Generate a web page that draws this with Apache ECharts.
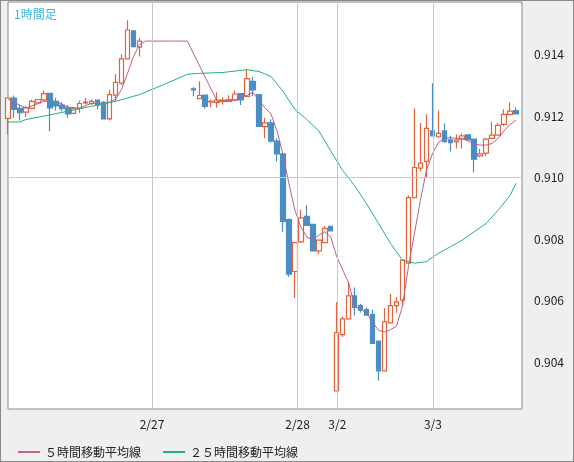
<!DOCTYPE html>
<html><head><meta charset="utf-8">
<script src="https://cdn.jsdelivr.net/npm/echarts@6/dist/echarts.min.js"></script>
<style>html,body{margin:0;padding:0;background:#efefef}#c{width:574px;height:462px;box-sizing:border-box;border:1px solid #8a8a8a}</style>
</head><body><div id="c"></div>
<script>
// [open, close, low, high]; '-' = no data (gap)
const candles = [
[0.91193,0.91259,0.91141,0.91261],[0.91259,0.91222,0.91195,0.91267],[0.91225,0.91211,0.91186,0.91236],[0.91213,0.91227,0.91197,0.91232],
[0.91225,0.91248,0.91222,0.91254],[0.91243,0.91254,0.91241,0.91256],[0.91253,0.91273,0.91248,0.91283],[0.91274,0.91227,0.91152,0.91274],
[0.91248,0.91233,0.91218,0.91259],[0.91236,0.91224,0.91216,0.91246],[0.91227,0.91207,0.91195,0.91236],[0.91209,0.91224,0.91206,0.91229],
[0.91225,0.91241,0.91211,0.91251],[0.91243,0.91246,0.91238,0.91259],[0.91241,0.91248,0.91236,0.91254],[0.91252,0.91236,0.91222,0.91252],
[0.91245,0.91191,0.91191,0.91248],[0.91191,0.91270,0.91186,0.91286],[0.91268,0.91310,0.91248,0.91336],[0.91307,0.91386,0.91302,0.91401],
[0.91386,0.91480,0.91386,0.91512],[0.91477,0.91426,0.91423,0.91480],[0.91424,0.91444,0.91394,0.91455],
'-','-','-','-','-','-','-','-',
[0.91289,0.91285,0.91265,0.91294],[0.91257,0.91267,0.91257,0.91313],[0.91268,0.91232,0.91225,0.91268],[0.91246,0.91248,0.91229,0.91254],
[0.91245,0.91252,0.91227,0.91278],[0.91248,0.91252,0.91238,0.91261],[0.91248,0.91254,0.91248,0.91268],[0.91252,0.91272,0.91248,0.91283],
[0.91273,0.91253,0.91236,0.91275],[0.91264,0.91322,0.91264,0.91353],[0.91313,0.91285,0.91265,0.91328],[0.91270,0.91167,0.91167,0.91272],
[0.91166,0.91178,0.91128,0.91195],[0.91178,0.91119,0.91114,0.91189],[0.91119,0.91077,0.91052,0.91128],[0.91077,0.90858,0.90824,0.91077],
[0.90864,0.90686,0.90678,0.90867],[0.90695,0.90789,0.90609,0.90789],[0.90791,0.90869,0.90788,0.90896],[0.90874,0.90845,0.90843,0.90910],
[0.90848,0.90762,0.90762,0.90848],[0.90762,0.90797,0.90752,0.90797],[0.90789,0.90835,0.90789,0.90843],[0.90842,0.90827,0.90827,0.90842],
[0.90307,0.90496,0.90307,0.90595],[0.90490,0.90541,0.90482,0.90549],[0.90541,0.90616,0.90541,0.90659],[0.90616,0.90578,0.90552,0.90643],
[0.90584,0.90569,0.90562,0.90590],[0.90571,0.90553,0.90553,0.90578],[0.90555,0.90461,0.90461,0.90571],[0.90469,0.90372,0.90340,0.90469],
[0.90372,0.90531,0.90372,0.90576],[0.90528,0.90584,0.90528,0.90623],[0.90584,0.90596,0.90561,0.90612],[0.90603,0.90732,0.90582,0.90732],
[0.90722,0.90935,0.90722,0.90942],[0.90935,0.91033,0.90935,0.91225],[0.91031,0.91047,0.91020,0.91178],[0.91053,0.91160,0.91001,0.91206],
[0.91152,0.91136,0.91136,0.91307],[0.91133,0.91144,0.91130,0.91218],[0.91152,0.91117,0.91114,0.91177],[0.91123,0.91114,0.91085,0.91136],
[0.91117,0.91123,0.91095,0.91141],[0.91125,0.91136,0.91095,0.91144],[0.91139,0.91123,0.91123,0.91139],[0.91125,0.91060,0.91017,0.91125],
[0.91071,0.91077,0.91066,0.91093],[0.91080,0.91125,0.91071,0.91130],[0.91128,0.91138,0.91125,0.91181],[0.91138,0.91170,0.91136,0.91178],
[0.91173,0.91206,0.91168,0.91222],[0.91206,0.91216,0.91202,0.91245],[0.91218,0.91207,0.91206,0.91229],
'-'
];
// moving averages, [slot, value]
const ma5Pts = [[0,0.91255],[3,0.91226],[6,0.91248],[8,0.91248],[10,0.91229],[12,0.91226],[14,0.91242],[16,0.91242],[17,0.91245],
[18,0.91255],[19,0.91287],[20,0.91339],[21,0.91394],[22,0.91432],[23,0.91444],[24,0.91444],[25,0.91444],[26,0.91444],[27,0.91444],
[28,0.91444],[29,0.91444],[30,0.91444],[35,0.91248],[36,0.91248],[38,0.91253],[39,0.91261],[40,0.91268],[41,0.91277],[42,0.91251],
[43,0.91227],[44,0.91207],[45,0.91152],[46,0.91077],[47,0.90981],[48,0.90894],[49,0.90840],[50,0.90807],[51,0.90797],[52,0.90813],
[53,0.90824],[54,0.90807],[55,0.90743],[56,0.90700],[57,0.90658],[58,0.90582],[59,0.90571],[60,0.90561],[61,0.90529],[62,0.90504],
[63,0.90498],[64,0.90506],[65,0.90517],[66,0.90582],[67,0.90711],[68,0.90818],[69,0.90926],[70,0.91023],[71,0.91077],[72,0.91114],
[73,0.91128],[74,0.91130],[75,0.91128],[76,0.91128],[77,0.91119],[78,0.91109],[79,0.91106],[80,0.91106],[81,0.91111],[82,0.91128],
[83,0.91152],[84,0.91173],[85,0.91187]];
const ma25Pts = [[0,0.91181],[2,0.91181],[3,0.91189],[6,0.91200],[10,0.91216],[14,0.91232],[18,0.91248],[20,0.91259],[22,0.91270],
[26,0.91302],[30,0.91336],[32,0.91339],[36,0.91342],[40,0.91351],[42,0.91345],[44,0.91329],[46,0.91281],[48,0.91222],[50,0.91189],
[52,0.91152],[54,0.91087],[56,0.91023],[58,0.90974],[60,0.90915],[62,0.90851],[64,0.90786],[66,0.90732],[68,0.90722],[70,0.90727],
[72,0.90754],[74,0.90775],[76,0.90797],[78,0.90824],[80,0.90851],[82,0.90894],[84,0.90942],[85,0.90982]];
const dateTickPos = [24.1, 48.45, 55.1, 71.1];
const dateTickLabels = ['2/27', '2/28', '3/2', '3/3'];
const priceTicks = [0.904, 0.906, 0.908, 0.910, 0.912, 0.914];

const cats = candles.map((_, i) => String(i));
const ch = echarts.init(document.getElementById('c'));
const font = "'Noto Sans CJK JP', 'DejaVu Sans', sans-serif";
const gridLine = {lineStyle: {color: '#c8c8c8', width: 1, type: 'solid'}, symbol: 'none', label: {show: false}, silent: true};
ch.setOption({
  animation: false,
  textStyle: {fontFamily: font},
  title: {text: '1時間足', left: 8, top: 2, textStyle: {color: '#3cb4e6', fontSize: 12, fontWeight: 'normal', fontFamily: font}},
  legend: {left: 12, top: 440, itemWidth: 22, itemHeight: 2, itemGap: 22, icon: 'rect',
    textStyle: {fontSize: 12, color: '#222', fontFamily: font},
    data: ['５時間移動平均線', '２５時間移動平均線']},
  grid: {left: 7, right: 51, top: 1, bottom: 52, show: true, backgroundColor: '#fff', borderColor: '#8a8a8a', borderWidth: 1},
  xAxis: [
    {type: 'category', data: cats, boundaryGap: false, show: false},
    {type: 'value', min: 0, max: cats.length - 1, position: 'bottom',
      axisLine: {show: false}, axisTick: {show: false}, splitLine: {show: false},
      axisLabel: {customValues: dateTickPos, color: '#222', fontSize: 12, margin: 9,
        formatter: v => { const k = dateTickPos.findIndex(p => Math.abs(p - v) < 1e-6); return k >= 0 ? dateTickLabels[k] : ''; }}}
  ],
  yAxis: {type: 'value', position: 'right', min: 0.90248, max: 0.91571, scale: true,
    axisLine: {show: false}, axisTick: {show: false}, splitLine: {show: false},
    axisLabel: {customValues: priceTicks, color: '#222', fontSize: 12, margin: 12, formatter: v => v.toFixed(3)}},
  series: [
    {type: 'line', xAxisIndex: 1, data: [], silent: true,
      markLine: Object.assign({data: dateTickPos.map(p => ({xAxis: p})).concat(priceTicks.map(p => ({yAxis: p})))}, gridLine)},
    {type: 'candlestick', xAxisIndex: 0, data: candles, barWidth: 5,
      itemStyle: {color: '#ffffff', color0: '#4a8ec6', borderColor: '#e0643e', borderColor0: '#4a8ec6', borderWidth: 1.2}},
    {name: '５時間移動平均線', type: 'line', xAxisIndex: 1, data: ma5Pts, showSymbol: false, symbol: 'none',
      lineStyle: {color: '#b8608e', width: 1}, itemStyle: {color: '#c8608e'}},
    {name: '２５時間移動平均線', type: 'line', xAxisIndex: 1, data: ma25Pts, showSymbol: false, symbol: 'none',
      lineStyle: {color: '#27b07a', width: 1}, itemStyle: {color: '#27b07a'}}
  ]
});
</script></body></html>
